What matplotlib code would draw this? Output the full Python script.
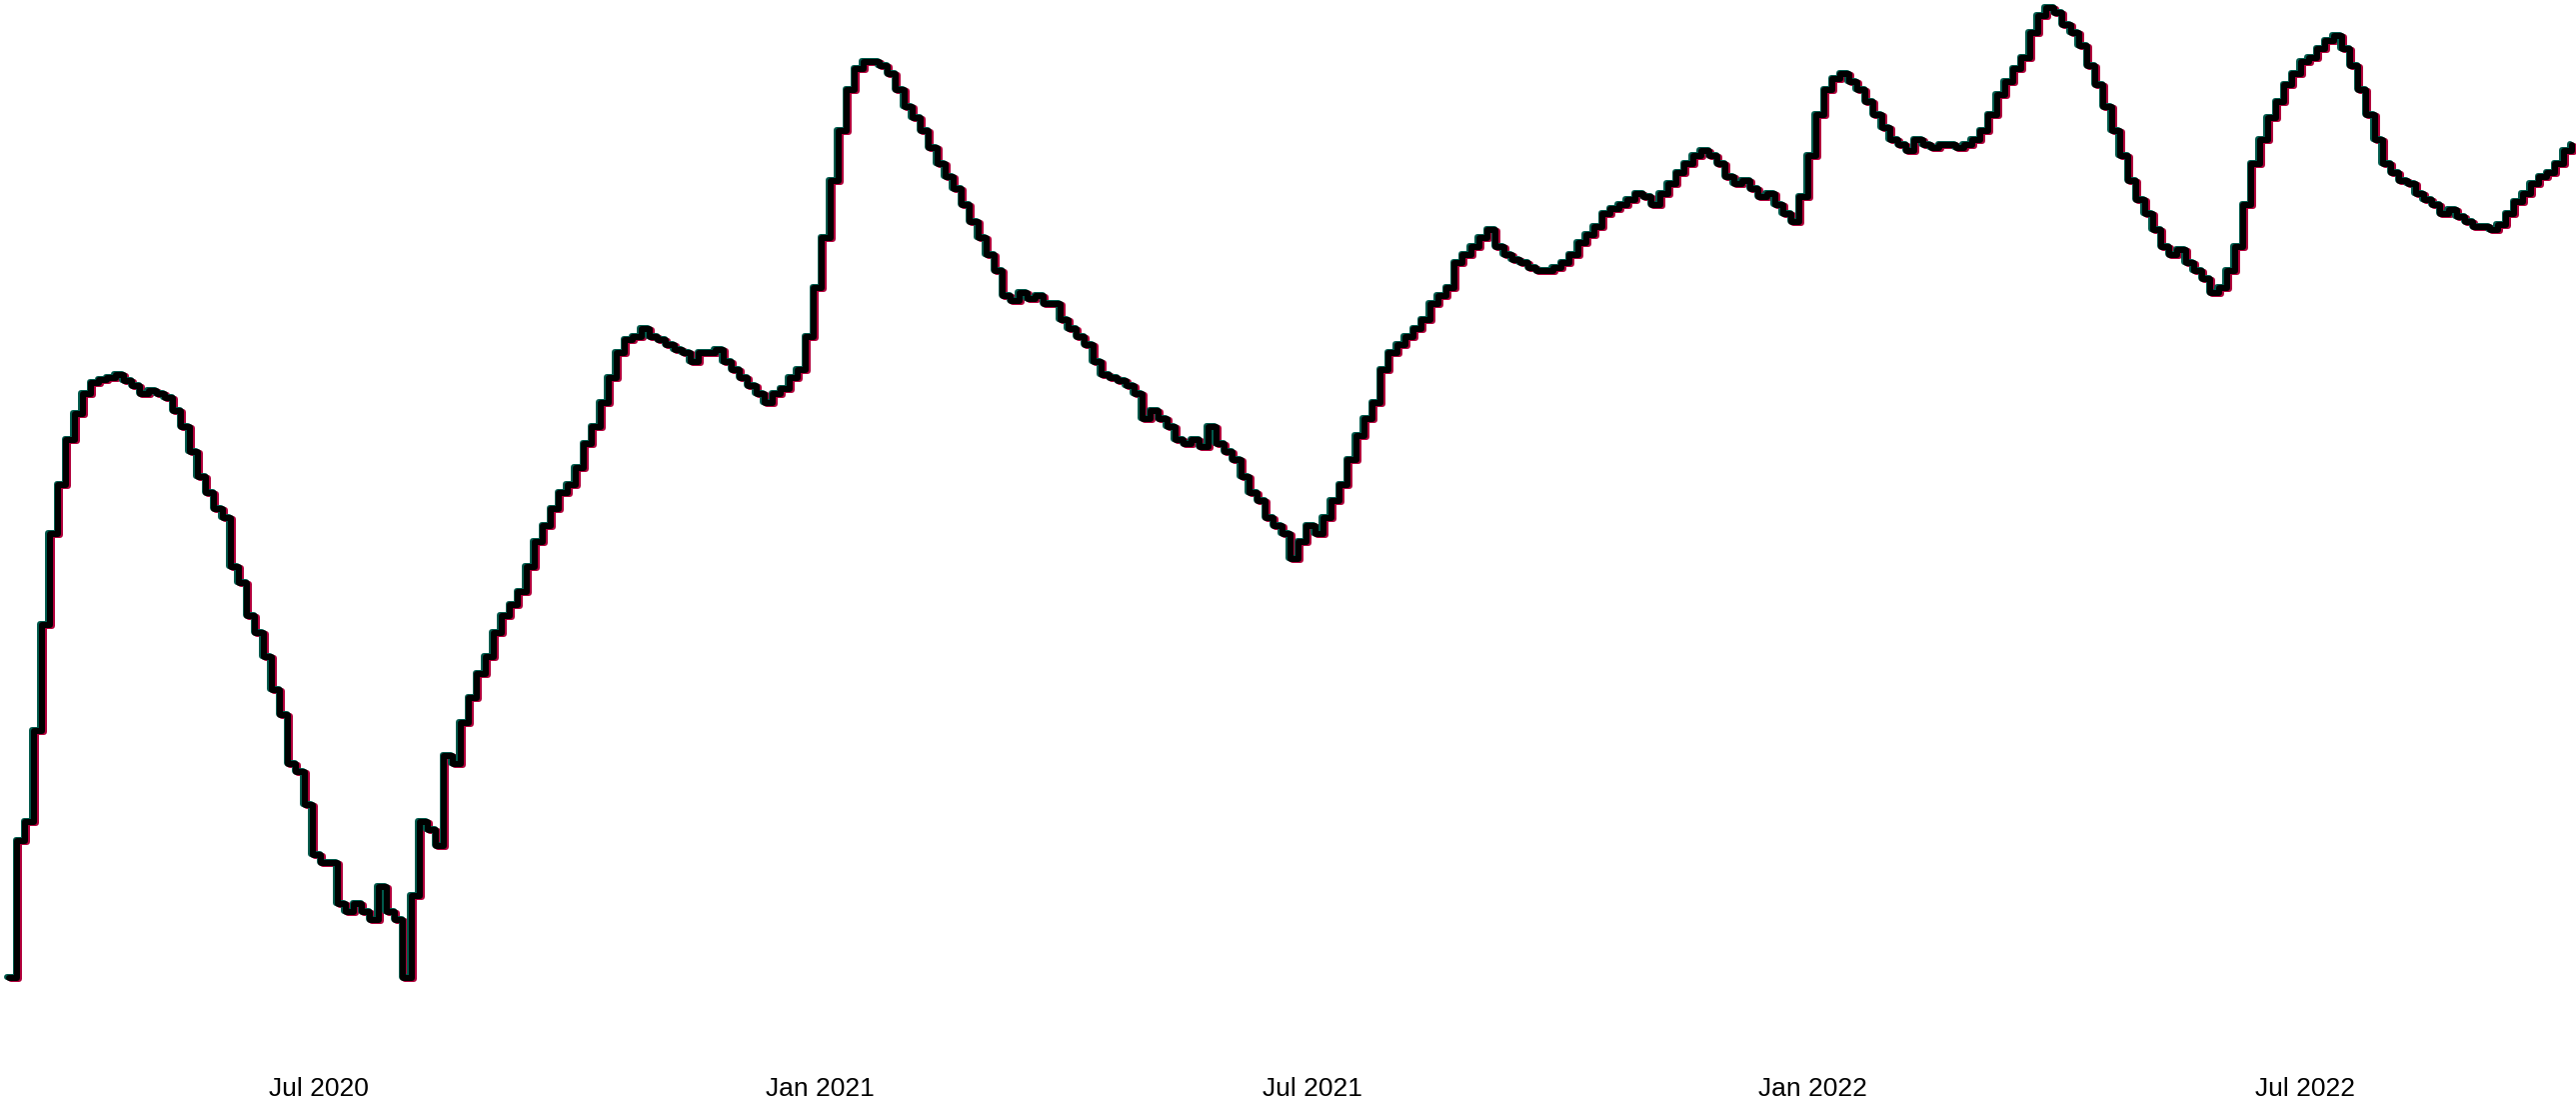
import matplotlib
matplotlib.use("Agg")
import matplotlib.pyplot as plt
import matplotlib.dates as mdates
import matplotlib.transforms as mtransforms
import numpy as np
import pandas as pd

# series sampled roughly every 3 days, Mar 2020 - Oct 2022 (no y scale shown)
start_date = "2020-03-09"
end_date = "2022-10-07"
values = [
    105, 188, 200, 255, 320, 375, 405, 432, 448, 460, 467,
    469, 470, 472, 468, 465, 460, 462, 460,
    458, 450, 440, 425, 410, 400, 390, 385,
    355, 345, 325, 315, 300, 280, 265, 235,
    230, 210, 180, 175, 175, 150, 145, 150,
    145, 140, 160, 145, 140, 105, 155, 200,
    195, 185, 240, 235, 260, 275, 290, 300,
    315, 325, 332, 340, 355, 370, 380, 390,
    400, 405, 415, 430, 440, 455, 470, 485,
    493, 495, 500, 495, 493, 490, 487, 485,
    480, 485, 485, 487, 480, 475, 470, 465,
    460, 455, 460, 463, 470, 475, 495, 525,
    555, 590, 620, 645, 658, 662, 662, 660,
    655, 645, 635, 628, 620, 610, 600, 592,
    585, 575, 565, 555, 545, 535, 520, 517,
    522, 518, 520, 515, 515, 505, 500, 495,
    490, 480, 472, 470, 468, 465, 460, 445,
    450, 445, 440, 432, 430, 432, 428, 440,
    430, 425, 420, 410, 400, 395, 385, 380,
    375, 360, 370, 380, 375, 385, 395, 405,
    420, 435, 445, 455, 475, 485, 490, 495,
    500, 505, 515, 520, 525, 540, 545, 550,
    555, 560, 550, 545, 542, 540, 537, 535,
    535, 537, 540, 545, 552, 557, 562, 570,
    573, 575, 578, 582, 580, 575, 582, 588,
    595, 600, 605, 608, 605, 600, 592, 588,
    590, 585, 580, 582, 575, 570, 565, 580,
    605, 630, 645, 652, 655, 650, 645, 638,
    630, 622, 615, 612, 608, 615, 612, 610,
    612, 612, 610, 612, 615, 620, 630, 642,
    650, 658, 665, 680, 690, 695, 692, 685,
    680, 672, 660, 648, 635, 620, 605, 590,
    578, 570, 560, 550, 545, 548, 540, 535,
    530, 522, 525, 535, 550, 575, 600, 615,
    628, 638, 648, 655, 662, 665, 670, 675,
    678, 670, 660, 645, 630, 615, 600, 595,
    590, 588, 582, 578, 575, 570, 572, 568,
    565, 562, 562, 560, 563, 570, 577, 582,
    588, 592, 595, 600, 608, 612,
]
tick_dates = ["2020-07-01", "2021-01-01", "2021-07-01", "2022-01-01", "2022-07-01"]
tick_labels = ["Jul 2020", "Jan 2021", "Jul 2021", "Jan 2022", "Jul 2022"]

dates = pd.date_range(start_date, end_date, periods=len(values))

plt.rcParams["font.family"] = ["Liberation Sans", "DejaVu Sans"]

fig = plt.figure(figsize=(25.77, 10.98), dpi=100)
ax = fig.add_axes([0, 0.0346, 1, 0.9654])

shift_r = mtransforms.offset_copy(ax.transData, fig=fig, x=2.0, y=-1.0, units="dots")
shift_l = mtransforms.offset_copy(ax.transData, fig=fig, x=-1.5, y=1.0, units="dots")
ax.plot(dates, values, drawstyle="steps-post", color="#b0003a", lw=4.3,
        transform=shift_r, solid_capstyle="round", solid_joinstyle="round")
ax.plot(dates, values, drawstyle="steps-post", color="#005a4c", lw=4.3,
        transform=shift_l, solid_capstyle="round", solid_joinstyle="round")
ax.plot(dates, values, drawstyle="steps-post", color="black", lw=4.3,
        solid_capstyle="round", solid_joinstyle="round")

ax.set_xlim(pd.Timestamp("2020-03-05 18:00"), pd.Timestamp("2022-10-08 12:00"))
ax.set_ylim(55, 700)
ax.set_xticks(pd.to_datetime(tick_dates))
ax.set_xticklabels(tick_labels, fontsize=19)
ax.tick_params(axis="x", length=0, pad=12)
ax.set_yticks([])
for s in ax.spines.values():
    s.set_visible(False)

fig.savefig("out.png", dpi=100, facecolor="white")
